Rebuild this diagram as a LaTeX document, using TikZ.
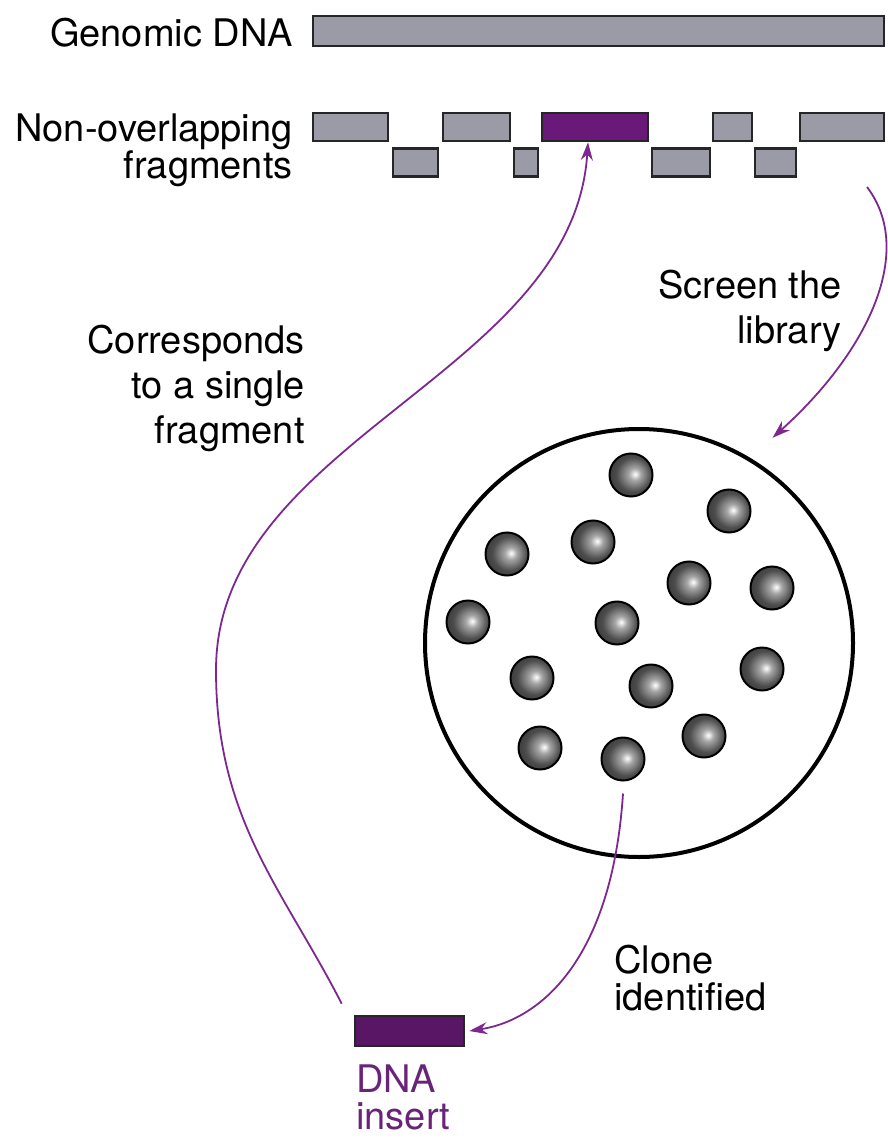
\documentclass[tikz,border=0pt]{standalone}
\usepackage{fontspec}
\setmainfont{TeX Gyre Heros}
\usetikzlibrary{arrows.meta}
\definecolor{dnagray}{RGB}{155,155,168}
\definecolor{fragpurple}{RGB}{105,25,120}
\definecolor{insertpurple}{RGB}{88,22,100}
\definecolor{arrowpurple}{RGB}{125,40,145}
\definecolor{textpurple}{RGB}{105,35,120}
\pgfdeclareradialshading{beadshade}{\pgfqpoint{5bp}{1bp}}{color(0bp)=(white); color(7bp)=(gray!70); color(20bp)=(black!70); color(40bp)=(black!86); color(50bp)=(black)}
\begin{document}
\begin{tikzpicture}[x=0.5pt, y=-0.5pt,
    lbl/.style={inner sep=0pt, font=\fontsize{19}{22.5}\selectfont},
    fragbox/.style={draw=black!85, line width=1.3pt, fill=dnagray, inner sep=0pt, minimum height=14pt},
    bead/.style={circle, draw=black, line width=1pt, inner sep=0pt, minimum size=21.5pt, shading=beadshade},
    link/.style={arrowpurple, line width=0.9pt, -{Stealth[length=9pt,width=6pt]}}]
    \useasboundingbox (0,0) rectangle (887,1138);

    % DNA genom utuh
    \node[fragbox, minimum width=285.5pt, minimum height=15pt] (genome) at (598.5,31) {};
    \node[lbl, anchor=north east] (genomelbl) at (293,18) {Genomic DNA};

    % Fragmen yang tidak saling tumpang tindih
    \foreach \l/\r [count=\i] in {313/388, 443/510, 713/752, 800/884}
        \node[fragbox, minimum width={(\r-\l)*0.5pt}] (top\i) at ({(\l+\r)/2},127) {};
    \foreach \l/\r [count=\i] in {393/438, 514/538, 652/710, 755/796}
        \node[fragbox, minimum width={(\r-\l)*0.5pt}] (low\i) at ({(\l+\r)/2},162.5) {};
    \node[fragbox, fill=fragpurple, minimum width=53pt] (hit) at (595,127) {};
    \node[lbl, anchor=north east, align=right, font=\fontsize{19}{18.5}\selectfont] (fraglbl) at (293,113) {Non-overlapping\\fragments};

    % Cawan dengan koloni
    \node[circle, draw, line width=2pt, inner sep=0pt, minimum size=214pt] (plate) at (639,643) {};
    \foreach \x/\y [count=\i] in {631/475, 729/511, 593/542, 507/554, 689/583, 772/588, 468/622,
        617/623, 532/678, 651/686, 762/669, 540/748, 623/759, 704/736}
        \node[bead] (b\i) at (\x,\y) {};

    % Sisipan DNA
    \node[fragbox, fill=insertpurple, minimum width=54.5pt, minimum height=15pt] (insert) at (409.5,1031) {};
    \node[lbl, anchor=north west, align=left, text=textpurple, font=\fontsize{19}{18.5}\selectfont] (insertlbl) at (356,1064) {DNA\\insert};

    % Label penjelas
    \node[lbl, anchor=north east, align=right] (corrlbl) at (305,325) {Corresponds\\to a single\\fragment};
    \node[lbl, anchor=north east, align=right] (screenlbl) at (842,270) {Screen the\\library};
    \node[lbl, anchor=north west, align=left, font=\fontsize{19}{18.5}\selectfont] (clonelbl) at (614,945) {Clone\\identified};

    % Panah-panah
    \coordinate (scrtop) at (867,187);
    \coordinate (bend) at (216,670);
    \draw[link, shorten >=15pt] (scrtop) .. controls (915,250) and (870,350) .. (plate.59);
    \draw[link] ([yshift=-6pt]b13.south) .. controls (612,960) and (540,1020) .. ([xshift=2pt]insert.east);
    \draw[link] ([xshift=-6pt,yshift=5.5pt]insert.north west) .. controls (283,889) and (216,820) .. (bend)
        .. controls (216,440) and (573,375) .. ([xshift=-3.5pt]hit.south);

\end{tikzpicture}
\end{document}
